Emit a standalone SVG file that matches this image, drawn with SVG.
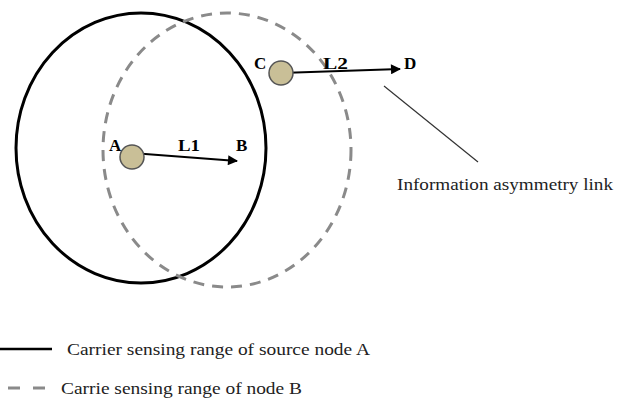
<svg xmlns="http://www.w3.org/2000/svg" width="631" height="400" viewBox="0 0 631 400">
<style>
.lbl{font-family:"Liberation Serif","Times New Roman",serif;font-weight:bold;font-size:17px;fill:#000}
.txt{font-family:"Liberation Serif","Times New Roman",serif;font-size:16px;fill:#222}
.node{fill:#c9bf97;stroke:#555;stroke-width:1.5}
.dash{fill:none;stroke:#8a8a8a;stroke-width:3;stroke-dasharray:11 8}
.solid{fill:none;stroke:#000;stroke-width:3}
.link{stroke:#000;stroke-width:2;fill:none}
</style>
<defs>
<marker id="ah" viewBox="0 0 10 10" refX="9" refY="5" markerWidth="6" markerHeight="5" orient="auto" markerUnits="strokeWidth">
<path d="M0,0 L10,5 L0,10 z" fill="#000"/>
</marker>
</defs>
<g id="rangeA"><ellipse class="solid" cx="141" cy="148" rx="125" ry="135"/></g>
<g id="rangeB"><ellipse class="dash" cx="227" cy="150" rx="124" ry="137"/></g>
<g id="connectors">
<line class="link" x1="132" y1="153" x2="237" y2="161" marker-end="url(#ah)"/>
<line class="link" x1="281" y1="73" x2="400" y2="69" marker-end="url(#ah)"/>
<line x1="384" y1="86" x2="478" y2="162" stroke="#333" stroke-width="1.2"/>
</g>
<g id="nodeA"><circle class="node" cx="132" cy="157" r="12"/><text class="lbl" x="109" y="151">A</text></g>
<g id="nodeB"><text class="lbl" x="236" y="151">B</text></g>
<g id="nodeC"><circle class="node" cx="281" cy="73" r="12"/><text class="lbl" x="254" y="69">C</text></g>
<g id="nodeD"><text class="lbl" x="404" y="69">D</text></g>
<text class="lbl" x="178" y="151" textLength="22" lengthAdjust="spacingAndGlyphs">L1</text>
<text class="lbl" x="323" y="69" textLength="25" lengthAdjust="spacingAndGlyphs">L2</text>
<text class="txt" x="397" y="190" textLength="216" lengthAdjust="spacingAndGlyphs">Information asymmetry link</text>
<g id="legend">
<line x1="0" y1="349" x2="52" y2="349" stroke="#000" stroke-width="2.5"/>
<text class="txt" x="67" y="355" textLength="303" lengthAdjust="spacingAndGlyphs">Carrier sensing range of source node A</text>
<line x1="8" y1="388" x2="46" y2="388" stroke="#8a8a8a" stroke-width="3" stroke-dasharray="12 13"/>
<text class="txt" x="61" y="394" textLength="241" lengthAdjust="spacingAndGlyphs">Carrie sensing range of node B</text>
</g>
</svg>
